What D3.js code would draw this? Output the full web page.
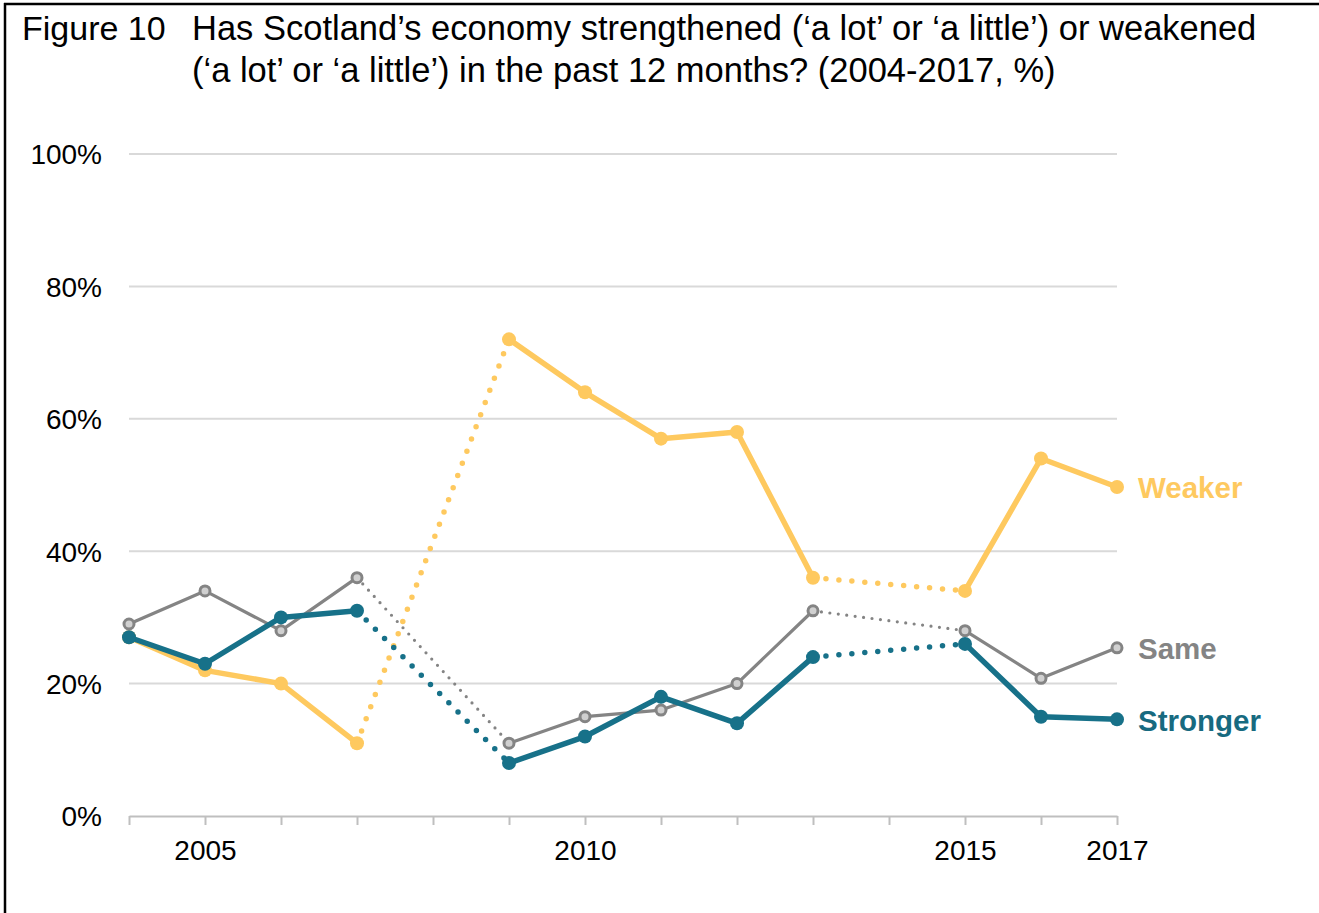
<!DOCTYPE html>
<html>
<head>
<meta charset="utf-8">
<script src="https://cdn.jsdelivr.net/npm/d3@7"></script>
<style>
  html, body { margin: 0; padding: 0; background: #fff; }
  svg { display: block; font-family: "Liberation Sans", Arial, sans-serif; }
</style>
</head>
<body>
<svg id="chart" width="1319" height="913"></svg>
<script>
// Survey years (no survey in 2008 and 2014; gaps are bridged with dotted lines)
const years = [2004, 2005, 2006, 2007, 2009, 2010, 2011, 2012, 2013, 2015, 2016, 2017];
const weaker   = [27, 22, 20, 11, 72, 64, 57, 58, 36, 34, 54, 49.7];
const same     = [29, 34, 28, 36, 11, 15, 16, 20, 31, 28, 20.8, 25.4];
const stronger = [27, 23, 30, 31, 8, 12, 18, 14, 24, 26, 15, 14.6];
const yTicks = [0, 20, 40, 60, 80, 100];
const xTickLabels = [2005, 2010, 2015, 2017];
const titleLines = [
  "Has Scotland\u2019s economy strengthened (\u2018a lot\u2019 or \u2018a little\u2019) or weakened",
  "(\u2018a lot\u2019 or \u2018a little\u2019) in the past 12 months? (2004-2017, %)"
];

const svg = d3.select("#chart");

// Frame lines (top and left)
svg.append("line").attr("x1", 4).attr("x2", 1319).attr("y1", 4).attr("y2", 4)
  .attr("stroke", "#000").attr("stroke-width", 2.5);
svg.append("line").attr("x1", 5).attr("x2", 5).attr("y1", 3).attr("y2", 913)
  .attr("stroke", "#000").attr("stroke-width", 2.5);

// Title
svg.append("text").attr("x", 22).attr("y", 40).attr("font-size", 34).attr("fill", "#000")
  .text("Figure 10");
titleLines.forEach((t, i) => {
  svg.append("text").attr("x", 192).attr("y", 40 + i * 42).attr("font-size", 34.5).attr("fill", "#000")
    .text(t);
});

const x = d3.scaleLinear().domain([2004, 2017]).range([129, 1117]);
const y = d3.scaleLinear().domain([0, 100]).range([816, 154]);

// Gridlines
svg.append("g").selectAll("line").data(yTicks.filter(d => d > 0)).join("line")
  .attr("x1", x(2004)).attr("x2", x(2017))
  .attr("y1", d => y(d)).attr("y2", d => y(d))
  .attr("stroke", "#d9d9d9").attr("stroke-width", 2);

// Y axis labels
const yAxis = d3.axisLeft(y).tickValues(yTicks).tickFormat(d => d + "%").tickSize(0).tickPadding(0);
const gy = svg.append("g").attr("transform", "translate(102,0)").call(yAxis);
gy.select(".domain").remove();
gy.selectAll("text").attr("font-size", 28).attr("fill", "#000")
  .attr("font-family", "'Liberation Sans', Arial, sans-serif").attr("dy", "0.35em");

// X axis with a tick every year
const xAxis = d3.axisBottom(x).tickValues(d3.range(2004, 2018)).tickSize(9).tickSizeOuter(0)
  .tickFormat(d => xTickLabels.includes(d) ? d : "");
const gx = svg.append("g").attr("transform", `translate(0,${y(0)})`).call(xAxis);
gx.select(".domain").attr("stroke", "#bfbfbf").attr("stroke-width", 2.2);
gx.selectAll(".tick line").attr("stroke", "#bfbfbf").attr("stroke-width", 2);
gx.selectAll("text").attr("font-size", 28).attr("fill", "#000")
  .attr("font-family", "'Liberation Sans', Arial, sans-serif").attr("dy", "0").attr("y", 44);

// Series
const series = [
  { name: "Weaker", values: weaker, color: "#fec95f", label: "#fec95f", width: 5.5, r: 7, hollow: false, dash: "0 13" },
  { name: "Same", values: same, color: "#848484", label: "#848484", width: 3.2, r: 5.5, hollow: true, dash: "0 8.5" },
  { name: "Stronger", values: stronger, color: "#177189", label: "#176a80", width: 5.5, r: 7, hollow: false, dash: "0 13" }
];
const labelY = { Weaker: 488, Same: 649, Stronger: 721 };

const line = d3.line().x(d => x(d.year)).y(d => y(d.v));

series.forEach(s => {
  const pts = years.map((yr, i) => ({ year: yr, v: s.values[i] }));
  // split into solid runs (consecutive years) and dotted bridges (gaps)
  const solid = [];
  const bridges = [];
  let run = [pts[0]];
  for (let i = 1; i < pts.length; i++) {
    if (pts[i].year - pts[i - 1].year === 1) {
      run.push(pts[i]);
    } else {
      solid.push(run);
      bridges.push([pts[i - 1], pts[i]]);
      run = [pts[i]];
    }
  }
  solid.push(run);

  const g = svg.append("g");
  g.selectAll("path.bridge").data(bridges).join("path").attr("class", "bridge")
    .attr("d", line).attr("fill", "none").attr("stroke", s.color)
    .attr("stroke-width", s.width).attr("stroke-linecap", "round")
    .attr("stroke-dasharray", s.dash);
  g.selectAll("path.solid").data(solid).join("path").attr("class", "solid")
    .attr("d", line).attr("fill", "none").attr("stroke", s.color)
    .attr("stroke-width", s.width).attr("stroke-linejoin", "round");
  g.selectAll("circle").data(pts).join("circle")
    .attr("cx", d => x(d.year)).attr("cy", d => y(d.v)).attr("r", s.hollow ? 5 : s.r)
    .attr("fill", s.hollow ? "#d0d0d0" : s.color)
    .attr("stroke", s.hollow ? s.color : "none").attr("stroke-width", s.hollow ? 3 : 0);

  svg.append("text").attr("x", 1138).attr("y", labelY[s.name]).attr("dy", "0.35em")
    .attr("font-size", 29.5).attr("font-weight", "bold").attr("fill", s.label).text(s.name);
});
</script>
</body>
</html>
